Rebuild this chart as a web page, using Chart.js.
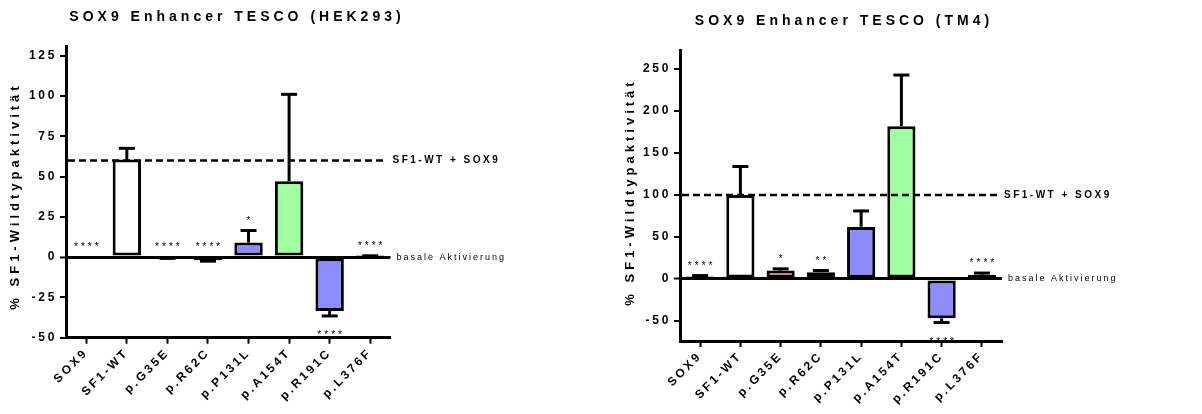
<!DOCTYPE html>
<html><head><meta charset="utf-8">
<script src="https://cdn.jsdelivr.net/npm/chart.js@4/dist/chart.umd.min.js"></script>
<style>
html,body{margin:0;padding:0;background:#fff;width:1202px;height:414px;overflow:hidden}
canvas{position:absolute;top:0}
#c1{left:0}#c2{left:600px}
</style></head>
<body>
<canvas id="c1" width="600" height="414"></canvas>
<canvas id="c2" width="602" height="414"></canvas>
<script>
// ---- data ----
const categories = ['SOX9','SF1-WT','p.G35E','p.R62C','p.P131L','p.A154T','p.R191C','p.L376F'];
const barColors = ['#ffffff','#ffffff','#ff9f9f','#ffa040','#8c8cff','#a0ffa0','#8c8cff','#ffffff'];
const yTitle = '% SF1-Wildtypaktivität';
const refLabel = 'SF1-WT + SOX9';
const baseLabel = 'basale Aktivierung';

const hekTitle = 'SOX9 Enhancer TESCO (HEK293)';
const hekValues = [0, 60.5, -0.5, -2, 9, 47, -33.5, 0.5];
const hekErrors = [0, 7, 0.3, 0.5, 7.5, 54, 3, 0.3];
const hekStars = ['****','','****','****','*','','****','****'];
const hekTicks = [-50,-25,0,25,50,75,100,125];
const hekReference = 60;

const tm4Title = 'SOX9 Enhancer TESCO (TM4)';
const tm4Values = [3, 100, 10, 8, 62, 182, -47, 5];
const tm4Errors = [1, 34, 2, 2, 19, 61, 5, 2];
const tm4Stars = ['****','','*','**','','','****','****'];
const tm4Ticks = [-50,0,50,100,150,200,250];
const tm4Reference = 100;

const FONT = '"Liberation Sans", Arial, Helvetica, sans-serif';

function makeChart(id, cfg) {
  const annot = {
    id: 'annot',
    beforeDraw(chart) { chart.ctx.letterSpacing = '2.7px'; },
    afterDatasetsDraw(chart) {
      const {ctx, chartArea: a, scales: {x, y}} = chart;
      ctx.save();
      ctx.letterSpacing = '0px';
      ctx.strokeStyle = '#000';
      ctx.lineWidth = 3;
      cfg.values.forEach((v, i) => {
        const e = cfg.errors[i];
        if (!e) return;
        const cx = x.getPixelForValue(i);
        const y0 = y.getPixelForValue(v);
        const y1 = y.getPixelForValue(v >= 0 ? v + e : v - e);
        ctx.beginPath(); ctx.moveTo(cx, y0); ctx.lineTo(cx, y1); ctx.stroke();
        ctx.beginPath(); ctx.moveTo(cx - 8, y1); ctx.lineTo(cx + 8, y1); ctx.stroke();
      });
      // reference dashed line
      const yr = y.getPixelForValue(cfg.reference);
      ctx.lineWidth = 2.5;
      ctx.setLineDash([7, 4]);
      ctx.beginPath(); ctx.moveTo(a.left + 2, yr); ctx.lineTo(a.right - 5, yr); ctx.stroke();
      ctx.restore();
      ctx.letterSpacing = '2.7px';
    },
    afterDraw(chart) {
      const {ctx, chartArea: a, scales: {x, y}} = chart;
      ctx.save();
      ctx.fillStyle = '#000';
      // title
      ctx.letterSpacing = '4px';
      ctx.font = 'bold 14px ' + FONT;
      ctx.textAlign = 'center';
      ctx.textBaseline = 'middle';
      ctx.fillText(cfg.title, cfg.titleX + 2, cfg.titleY);
      // y title
      ctx.save();
      ctx.translate(cfg.yTitleX, cfg.yTitleY);
      ctx.rotate(-Math.PI / 2);
      ctx.font = 'bold 13px ' + FONT;
      ctx.fillText(yTitle, 2, 0);
      ctx.restore();
      // reference labels
      ctx.textAlign = 'left';
      ctx.letterSpacing = '2.5px';
      ctx.font = 'bold 10px ' + FONT;
      ctx.fillText(refLabel, a.right + 2, y.getPixelForValue(cfg.reference));
      ctx.letterSpacing = '2px';
      ctx.font = '9px ' + FONT;
      ctx.fillText(baseLabel, a.right + 6, y.getPixelForValue(0));
      // stars
      ctx.letterSpacing = '3px';
      ctx.font = '10px ' + FONT;
      ctx.textAlign = 'center';
      ctx.textBaseline = 'alphabetic';
      cfg.stars.forEach((s, i) => {
        if (!s) return;
        const v = cfg.values[i], e = cfg.errors[i];
        const cx = x.getPixelForValue(i) + 1.5;
        if (v < -10) {
          ctx.fillText(s, cx, y.getPixelForValue(v - e) + 22);
        } else {
          ctx.fillText(s, cx, y.getPixelForValue(Math.max(0, v + e)) - 7);
        }
      });
      ctx.restore();
      ctx.letterSpacing = '0px';
    }
  };

  return new Chart(document.getElementById(id), {
    type: 'bar',
    data: {
      labels: categories,
      datasets: [{
        data: cfg.values,
        backgroundColor: barColors,
        borderColor: '#000',
        borderWidth: 3,
        borderSkipped: false,
        barPercentage: 0.7,
        categoryPercentage: 1
      }]
    },
    options: {
      responsive: false,
      animation: false,
      events: [],
      layout: { padding: { left: 0, top: cfg.top, right: cfg.right, bottom: 0 } },
      plugins: { legend: { display: false }, tooltip: { enabled: false }, title: { display: false } },
      scales: {
        x: {
          offset: true,
          grid: { offset: false, drawOnChartArea: false, drawTicks: true, tickLength: 6, tickWidth: 2, tickColor: '#000' },
          border: { display: true, width: 3, color: '#000' },
          ticks: {
            color: '#000', font: { family: FONT, size: 12, weight: 'bold' },
            minRotation: 45, maxRotation: 45, autoSkip: false, padding: 2
          },
          afterFit(s) { s.height = cfg.xHeight; s.paddingLeft = 0; s.paddingRight = 0; }
        },
        y: {
          z: 1,
          min: cfg.min, max: cfg.max,
          afterBuildTicks(s) { s.ticks = cfg.ticks.map(v => ({ value: v })); },
          grid: {
            drawOnChartArea: true,
            color: c => (c.tick && c.tick.value === 0) ? '#000' : 'rgba(0,0,0,0)',
            lineWidth: c => (c.tick && c.tick.value === 0) ? 3 : 0,
            drawTicks: true, tickLength: 6, tickWidth: 2, tickColor: '#000'
          },
          border: { display: true, width: 3, color: '#000' },
          ticks: { color: '#000', font: { family: FONT, size: 12, weight: 'bold' }, padding: 3 },
          afterFit(s) { s.width = cfg.yWidth; s.paddingTop = 0; s.paddingBottom = 0; }
        }
      }
    },
    plugins: [annot]
  });
}

makeChart('c1', {
  title: hekTitle, values: hekValues, errors: hekErrors, stars: hekStars, ticks: hekTicks,
  reference: hekReference, min: -50, max: 131,
  top: 46, right: 209.5, xHeight: 76.3, yWidth: 66,
  titleX: 235, titleY: 17, yTitleX: 15, yTitleY: 198
});
makeChart('c2', {
  title: tm4Title, values: tm4Values, errors: tm4Errors, stars: tm4Stars, ticks: tm4Ticks,
  reference: tm4Reference, min: -74, max: 272,
  top: 50.7, right: 200, xHeight: 73, yWidth: 80,
  titleX: 242, titleY: 21, yTitleX: 30, yTitleY: 194
});
</script>
</body></html>
